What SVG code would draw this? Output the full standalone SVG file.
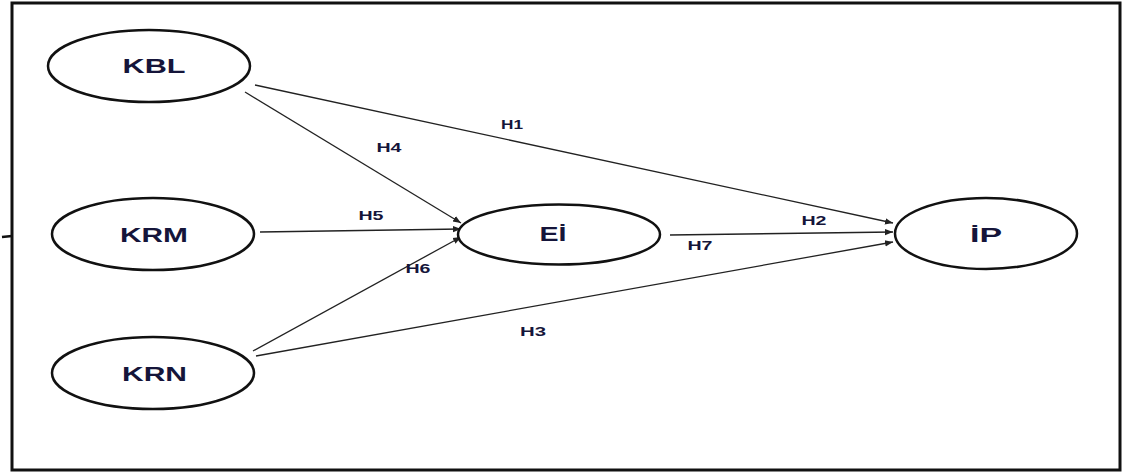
<svg xmlns="http://www.w3.org/2000/svg" width="1128" height="475" viewBox="0 0 1128 475">
<style>
.node ellipse{fill:#fff;stroke:#111;stroke-width:2.5}
.node text{font-family:"Liberation Sans",Arial,sans-serif;font-weight:bold;font-size:21px;fill:#15153a;text-anchor:middle}
.edges line{stroke:#222;stroke-width:1.3;marker-end:url(#arr)}
.lbl{font-family:"Liberation Sans",Arial,sans-serif;font-weight:bold;font-size:12.5px;fill:#15153a;text-anchor:middle}
</style>
<defs>
<marker id="arr" viewBox="0 0 10 10" refX="10" refY="5" markerWidth="8" markerHeight="8" markerUnits="userSpaceOnUse" orient="auto">
<path d="M0,1 L10,5 L0,9 z" fill="#222"/>
</marker>
</defs>
<rect width="1128" height="475" fill="#fff"/>
<rect x="12" y="3" width="1108" height="467" fill="none" stroke="#111" stroke-width="3"/>
<line x1="2" y1="237" x2="12" y2="236" stroke="#111" stroke-width="2.5"/>
<g class="edges">
<line x1="255" y1="85" x2="893" y2="223"/>
<line x1="245" y1="92" x2="461" y2="223"/>
<line x1="260" y1="232" x2="461" y2="229"/>
<line x1="253" y1="351" x2="461" y2="237"/>
<line x1="256" y1="356" x2="893" y2="242"/>
<line x1="670" y1="235" x2="893" y2="232"/>
</g>
<g id="labels">
<text class="lbl" x="512" y="129" textLength="22" lengthAdjust="spacingAndGlyphs">H1</text>
<text class="lbl" x="389" y="152" textLength="25" lengthAdjust="spacingAndGlyphs">H4</text>
<text class="lbl" x="371" y="220" textLength="25" lengthAdjust="spacingAndGlyphs">H5</text>
<text class="lbl" x="418" y="273" textLength="25" lengthAdjust="spacingAndGlyphs">H6</text>
<text class="lbl" x="700" y="250" textLength="25" lengthAdjust="spacingAndGlyphs">H7</text>
<text class="lbl" x="814" y="225" textLength="25" lengthAdjust="spacingAndGlyphs">H2</text>
<text class="lbl" x="533" y="336" textLength="26" lengthAdjust="spacingAndGlyphs">H3</text>
</g>
<g id="KBL" class="node"><ellipse cx="149" cy="66" rx="101" ry="36"/><text x="154" y="73" textLength="63" lengthAdjust="spacingAndGlyphs">KBL</text></g>
<g id="KRM" class="node"><ellipse cx="153" cy="234" rx="101" ry="36"/><text x="154" y="242" textLength="68" lengthAdjust="spacingAndGlyphs">KRM</text></g>
<g id="KRN" class="node"><ellipse cx="153" cy="373" rx="101" ry="36"/><text x="154.5" y="381" textLength="65" lengthAdjust="spacingAndGlyphs">KRN</text></g>
<g id="EI" class="node"><ellipse cx="559" cy="234.5" rx="101" ry="30"/><text x="553" y="241" textLength="27" lengthAdjust="spacingAndGlyphs">Eİ</text></g>
<g id="IP" class="node"><ellipse cx="986" cy="233.5" rx="91" ry="35.5"/><text x="986" y="242" textLength="32" lengthAdjust="spacingAndGlyphs">İP</text></g>
</svg>
